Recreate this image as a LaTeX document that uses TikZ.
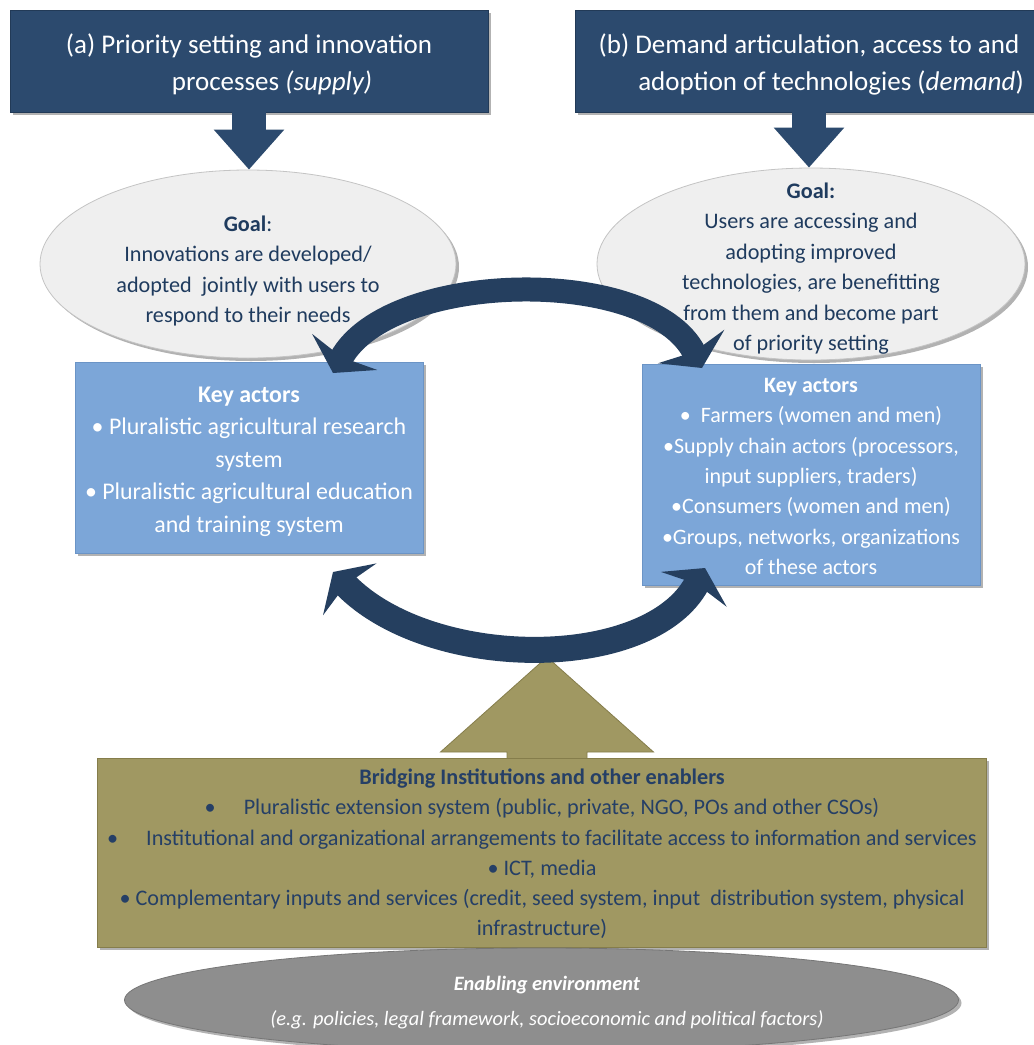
\documentclass[tikz,border=0pt]{standalone}
\usepackage{fontspec}
\setmainfont{Carlito}
\usetikzlibrary{arrows.meta,shadows,calc,shapes.geometric}
\definecolor{navybox}{HTML}{2C4A6E}
\definecolor{navyline}{HTML}{223A57}
\definecolor{navyarr}{HTML}{253F5F}
\definecolor{goaltext}{HTML}{1F3B5E}
\definecolor{goalfill}{HTML}{EFEFEF}
\definecolor{goalline}{HTML}{C4C4C4}
\definecolor{kafill}{HTML}{7CA6D8}
\definecolor{kaline}{HTML}{6B94C6}
\definecolor{olivefill}{HTML}{A09862}
\definecolor{oliveline}{HTML}{857D4B}
\definecolor{olivetext}{HTML}{253F66}
\definecolor{envfill}{HTML}{8E8E8E}
\definecolor{envline}{HTML}{767676}
\begin{document}
\begin{tikzpicture}[x=1pt,y=-1pt,
  softshadow/.style={drop shadow={shadow xshift=3pt,shadow yshift=-3pt,opacity=0.3,fill=black}},
  titlebox/.style={rectangle,fill=navybox,draw=navyline,line width=0.8pt,text=white,align=center,
    inner sep=0pt,font=\fontsize{27}{37}\selectfont,softshadow},
  goalell/.style={ellipse,fill=goalfill,draw=goalline,line width=0.8pt,inner sep=0pt,softshadow},
  goaltxt/.style={text=goaltext,align=center,inner sep=0pt,font=\fontsize{22.2}{30.5}\selectfont},
  kabox/.style={rectangle,fill=kafill,draw=kaline,line width=0.8pt,text=white,align=center,inner sep=0pt,softshadow},
  katxt/.style={text=white,align=center,inner sep=0pt},
  downarrow/.style={draw=navybox,line width=34pt,-{Triangle[length=40pt,width=68pt]}},
  looparrow/.style={draw=navyarr,{Stealth[length=24pt,width=74pt,inset=6pt]}-{Stealth[length=24pt,width=74pt,inset=6pt]}},
  bridgebox/.style={rectangle,fill=olivefill,draw=oliveline,line width=0.8pt,inner sep=0pt,softshadow},
  bridgetxt/.style={text=olivetext,align=center,inner sep=0pt,font=\fontsize{22.2}{30.2}\selectfont},
  olivearrow/.style={fill=olivefill,draw=oliveline,line width=0.8pt,line join=miter},
  envell/.style={ellipse,fill=envfill,draw=envline,line width=0.8pt,inner sep=0pt,softshadow},
  envtxt/.style={text=white,align=center,inner sep=0pt,font=\fontsize{20.4}{35}\selectfont}
]
\useasboundingbox (0,0) rectangle (1034,1045);
\clip (0,0) rectangle (1034,1045);
\fill[white] (0,0) rectangle (1034,1045);

% title boxes
\node[titlebox,minimum width=478pt,minimum height=102pt] (boxa) at (249,61) {};
\node[titlebox,minimum width=468pt,minimum height=102pt] (boxb) at (809,61) {};
\node[text=white,align=center,inner sep=0pt,font=\fontsize{27}{37}\selectfont] (boxatxt) at (249,64)
  {(a) Priority setting and innovation\\\hspace*{46pt}processes \textit{(supply)}};
\node[text=white,align=center,inner sep=0pt,font=\fontsize{27}{37}\selectfont] (boxbtxt) at (809,64)
  {(b) Demand articulation, access to and\\\hspace*{44pt}adoption of technologies (\textit{demand})};

% goal ellipses
\node[goalell,minimum width=416pt,minimum height=188pt] (goala) at (248,264) {};
\node[goalell,minimum width=428pt,minimum height=192pt] (goalb) at (811,264) {};
\node[goaltxt] (goalatxt) at (248,271)
  {\textbf{Goal}:\\Innovations are developed/\\adopted\ \ jointly with users to\\respond to their needs};
\node[goaltxt] (goalbtxt) at (811,268.5)
  {\textbf{Goal:}\\Users are accessing and\\adopting improved\\technologies, are benefitting\\from them and become part\\of priority setting};

% down arrows
\draw[downarrow] (boxa.south) -- (boxa.south |- goala.north);
\draw[downarrow] (boxb.south) -- (boxb.south |- goalb.north);

% key actors
\node[kabox,minimum width=348pt,minimum height=191pt] (kaa) at (249,457.5) {};
\node[kabox,minimum width=338pt,minimum height=221pt] (kab) at (811,474.5) {};
\node[katxt,font=\fontsize{23.9}{32.5}\selectfont] (kaatxt) at (249,461.5)
  {\textbf{Key actors}\\\textbullet\ Pluralistic agricultural research\\system\\\textbullet\ Pluralistic agricultural education\\and training system};
\node[katxt,font=\fontsize{22}{30.3}\selectfont] (kabtxt) at (811,476.5)
  {\textbf{Key actors}\\\textbullet\ \ Farmers (women and men)\\\textbullet Supply chain actors (processors,\\input suppliers, traders)\\\textbullet Consumers (women and men)\\\textbullet Groups, networks, organizations\\of these actors};

% olive up arrow
\coordinate (ot) at (547,657);
\filldraw[olivearrow] (ot) -- ($(ot)+(106.5,95)$) -- ($(ot)+(40,95)$) -- ($(ot)+(40,106)$)
  -- ($(ot)+(-40,106)$) -- ($(ot)+(-40,95)$) -- ($(ot)+(-106.5,95)$) -- cycle;

% bridging box
\node[bridgebox,minimum width=889pt,minimum height=189pt] (bridge) at (541.5,852.5) {};
\node[bridgetxt] (bridgetxt) at (542,854)
  {\textbf{Bridging Institutions and other enablers}\\
   \textbullet\hspace{28pt}Pluralistic extension system (public, private, NGO, POs and other CSOs)\\
   \textbullet\hspace{28pt}Institutional and organizational arrangements to facilitate access to information and services\\
   \textbullet\ ICT, media\\
   \textbullet\ Complementary inputs and services (credit, seed system, input\ \ distribution system, physical\\
   infrastructure)};

% enabling environment
\node[envell,minimum width=834pt,minimum height=104pt] (env) at (541.5,1000) {};
\node[envtxt] (envtxt) at (547,1003)
  {\textbf{\textit{Enabling environment}}\\\textit{(e.g. policies, legal framework, socioeconomic and political factors)}};

% loop arrows
\coordinate (t1) at (333,373);
\coordinate (t2) at (702,368);
\coordinate (b1) at (333,572);
\coordinate (b2) at (705,568);
\draw[looparrow,line width=24pt] (t1) .. controls (390,270) and (650,265) .. (t2);
\draw[looparrow,line width=26pt] (b1) .. controls (430,672) and (650,672) .. (b2);
\end{tikzpicture}
\end{document}
